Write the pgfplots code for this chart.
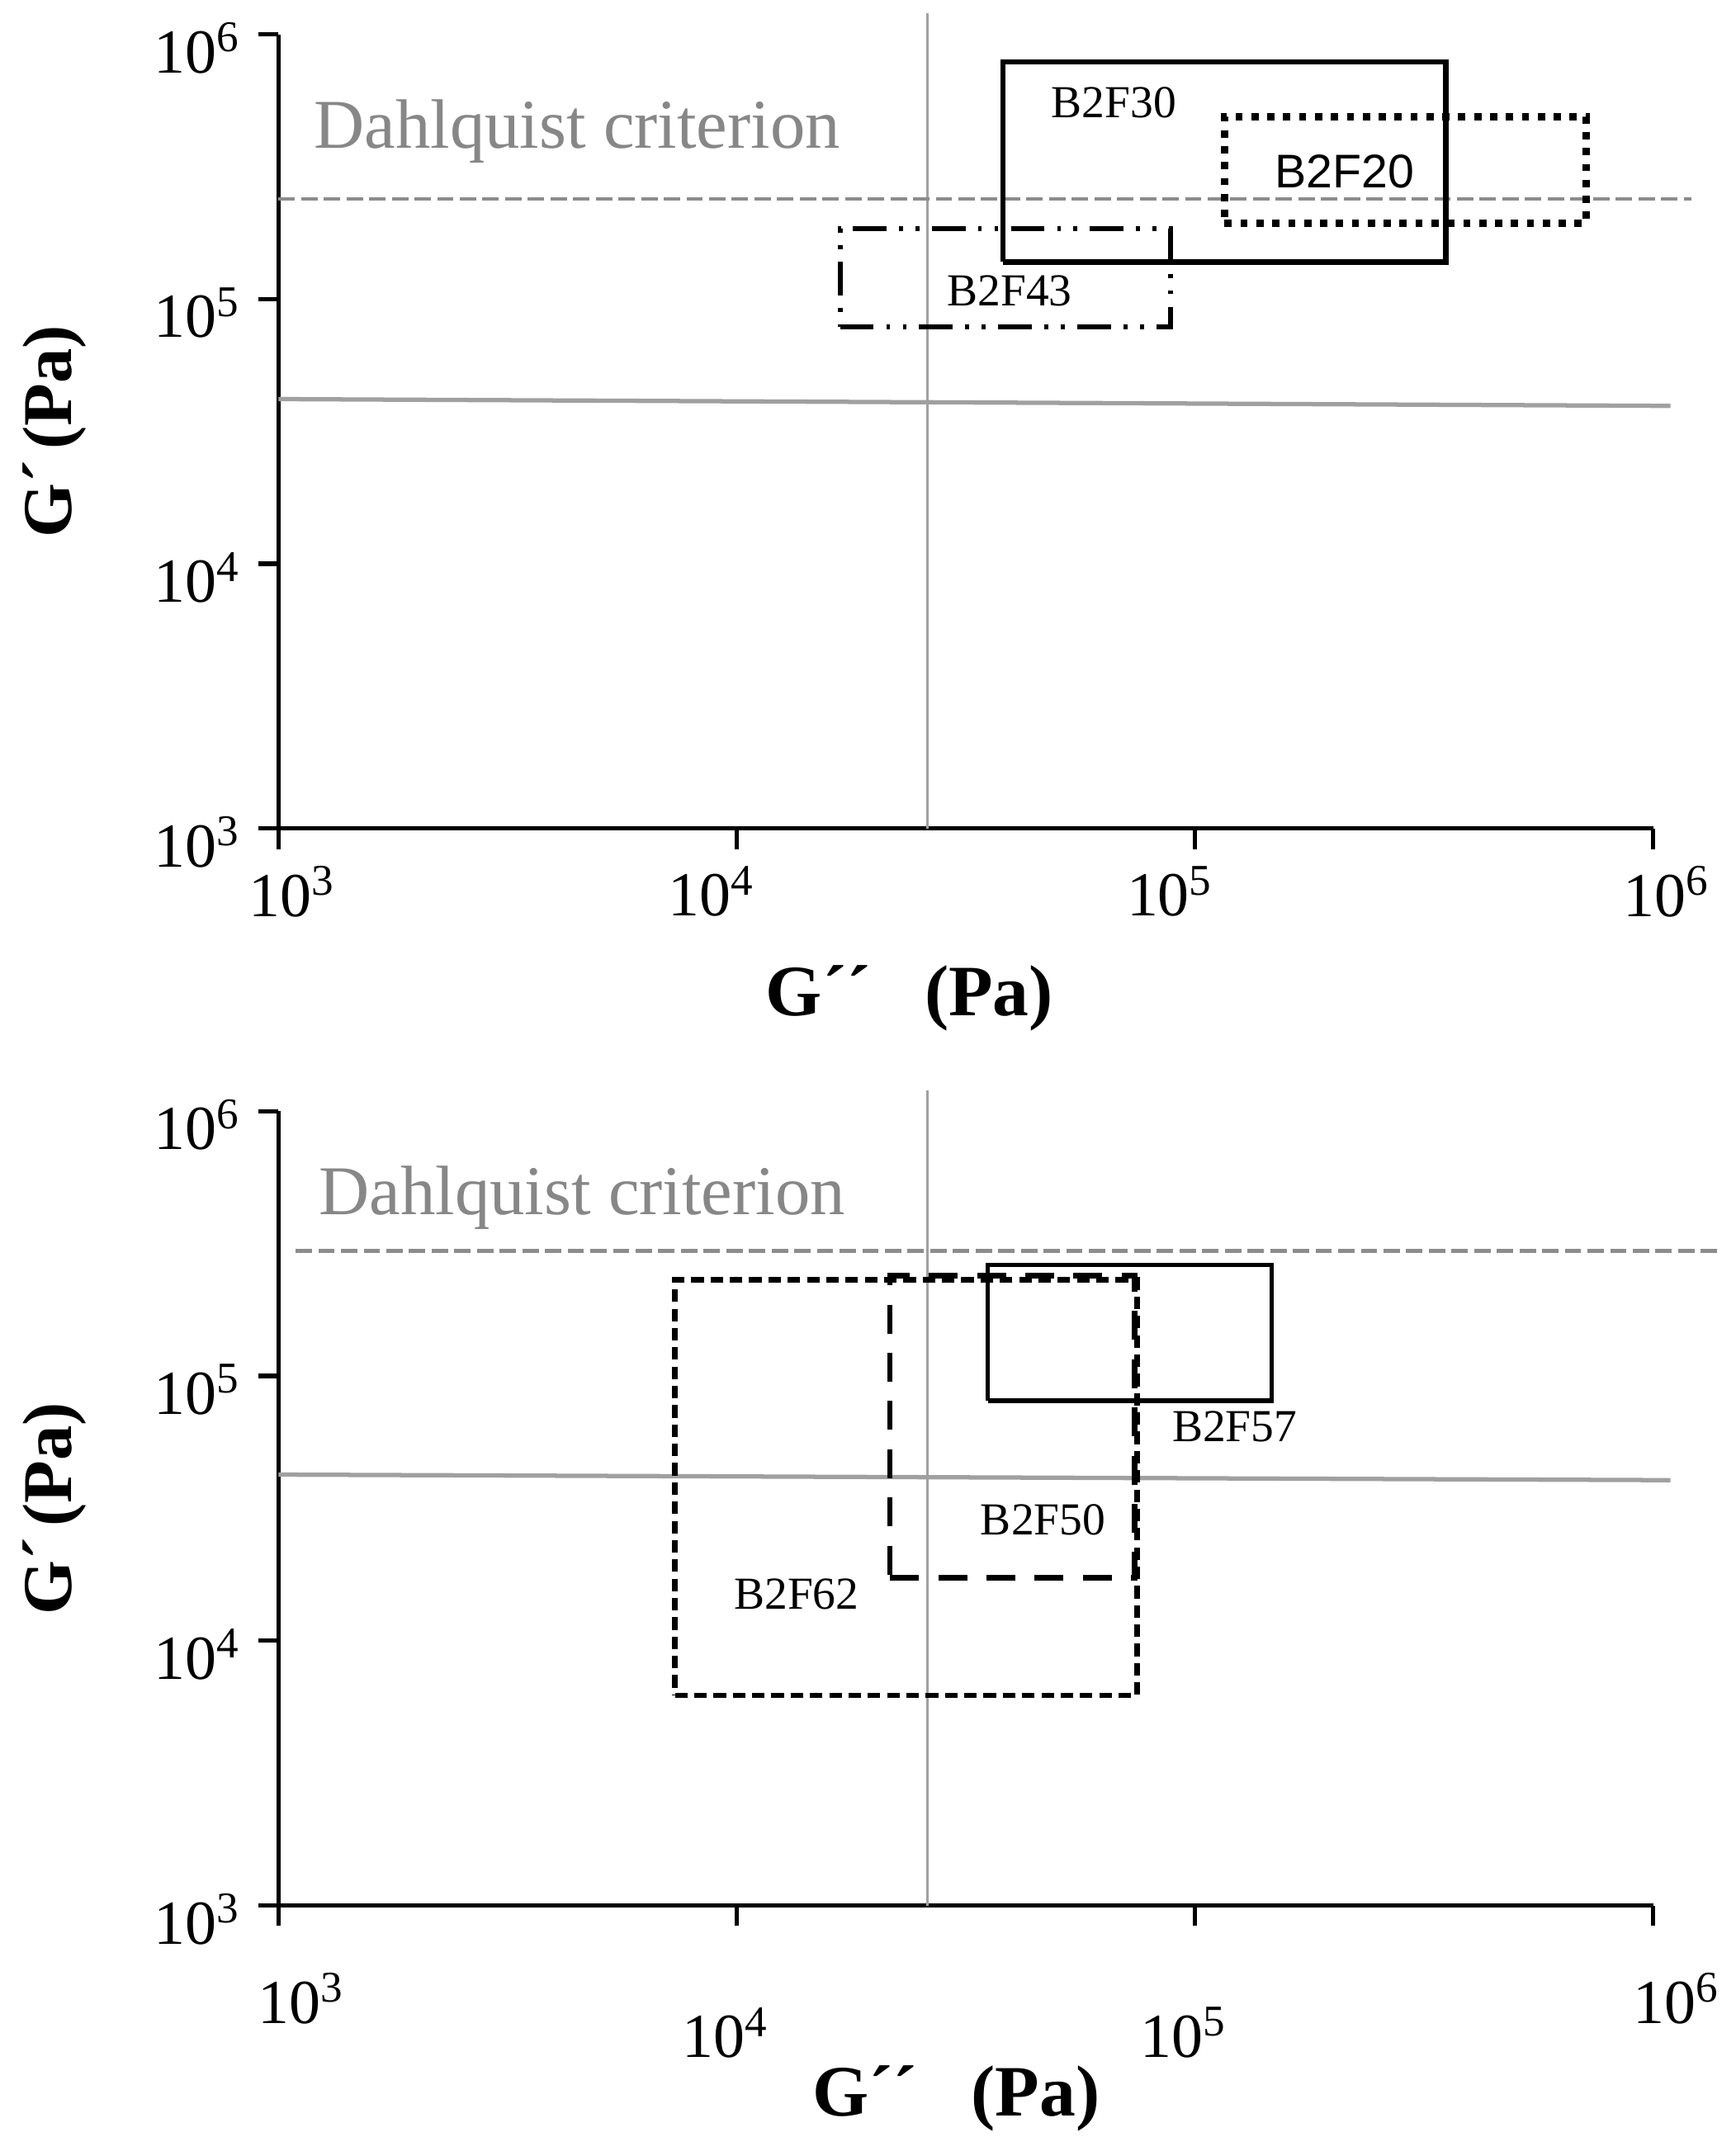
\documentclass[border=0pt]{standalone}
\usepackage{fontspec}
\setmainfont{Liberation Serif}
\newfontfamily\sansfont{Liberation Sans}
\usepackage{pgfplots}
\pgfplotsset{compat=1.18}
\definecolor{refgray}{RGB}{160,160,160}
\definecolor{dashgray}{RGB}{140,140,140}
\definecolor{txtgray}{RGB}{135,135,135}
\tikzset{
  boxlab/.style={font=\fontsize{9.5}{11}\selectfont, inner sep=0pt},
  dqtext/.style={font=\fontsize{14.5}{17}\selectfont, text=txtgray, inner sep=0pt, anchor=west},
}
\begin{document}
\begin{tikzpicture}
\path[use as bounding box] (0,0) rectangle (12.65cm,-15.68cm);
% ---------------- top panel ----------------
\begin{loglogaxis}[at={(2.03cm,-6.04cm)}, anchor=south west,
    scale only axis, width=10.02cm, height=5.79cm,
    xmin=1e3, xmax=1e6, ymin=1e3, ymax=1e6,
    axis x line*=bottom, axis y line*=left,
    axis line style={line width=0.9pt, black},
    tick align=outside, major tick length=0.15cm, minor tick length=0pt,
    tick style={black, line width=0.9pt},
    ticklabel style={font=\fontsize{13}{15}\selectfont},
    ytick={1e3,1e4,1e5,1e6},
    yticklabels={10\textsuperscript{3},10\textsuperscript{4},10\textsuperscript{5},10\textsuperscript{6}},
    yticklabel style={yshift=-0.1cm},
    xtick={1e3,1e6},
    xticklabels={10\textsuperscript{3},10\textsuperscript{6}},
    extra x ticks={1e4,1e5},
    extra x tick labels={10\textsuperscript{4},10\textsuperscript{5}},
    ylabel={\bfseries G´\hspace{0.15em}(Pa)},
    ylabel style={font=\fontsize{14.5}{17}\selectfont, at={(axis description cs:-0.163,0.5)}, anchor=center},
    xlabel={\bfseries G´´\hspace{0.75em}(Pa)},
    xlabel style={font=\fontsize{15}{18}\selectfont, anchor=center, at={(axis description cs:0.459,-0.214)}},
    clip=false,
    xticklabel style={xshift=0.1cm},
    extra x tick style={xticklabel style={xshift=-0.28cm}},
]
\addplot[refgray, line width=0.5pt] coordinates {(2.61e4,1e3) (2.61e4,1.2e6)};
\addplot[refgray, line width=0.9pt] coordinates {(1e3,4.19e4) (1.09e6,3.95e4)};
\addplot[dashgray, line width=0.8pt, dash pattern=on 3.4pt off 1.3pt] coordinates {(1e3,2.39e5) (1.21e6,2.39e5)};
% B2F43
\addplot[black, line width=1pt, dash pattern=on 7pt off 2.6pt on 0.8pt off 2.6pt on 0.8pt off 2.6pt]
  coordinates {(1.68e4,7.87e4) (8.83e4,7.87e4) (8.83e4,1.84e5) (1.68e4,1.84e5) (1.68e4,7.87e4)};
% B2F30
\addplot[black, line width=1.1pt] coordinates {(3.81e4,1.38e5) (3.53e5,1.38e5) (3.53e5,7.88e5) (3.81e4,7.88e5) (3.81e4,1.38e5)};
% B2F20
\addplot[black, line width=1.5pt, dash pattern=on 1.5pt off 1.8pt] coordinates {(1.16e5,1.93e5) (7.13e5,1.93e5) (7.13e5,4.89e5) (1.16e5,4.89e5) (1.16e5,1.93e5)};
\node[dqtext] at (axis cs:1.19e3,4.29e5) {Dahlquist criterion};
\node[boxlab] at (axis cs:6.65e4,5.51e5) {B2F30};
\node[boxlab, font=\sansfont\fontsize{9.8}{11}\selectfont] at (axis cs:2.12e5,3.04e5) {B2F20};
\node[boxlab] at (axis cs:3.94e4,1.07e5) {B2F43};
\end{loglogaxis}
% ---------------- bottom panel ----------------
\begin{loglogaxis}[at={(2.03cm,-13.89cm)}, anchor=south west,
    scale only axis, width=10.02cm, height=5.79cm,
    xmin=1e3, xmax=1e6, ymin=1e3, ymax=1e6,
    axis x line*=bottom, axis y line*=left,
    axis line style={line width=0.9pt, black},
    tick align=outside, major tick length=0.15cm, minor tick length=0pt,
    tick style={black, line width=0.9pt},
    ticklabel style={font=\fontsize{13}{15}\selectfont},
    ytick={1e3,1e4,1e5,1e6},
    yticklabels={10\textsuperscript{3},10\textsuperscript{4},10\textsuperscript{5},10\textsuperscript{6}},
    yticklabel style={yshift=-0.1cm},
    xtick={1e3,1e6},
    xticklabels={10\textsuperscript{3},10\textsuperscript{6}},
    extra x ticks={1e4,1e5},
    extra x tick labels={10\textsuperscript{4},10\textsuperscript{5}},
    ylabel={\bfseries G´\hspace{0.15em}(Pa)},
    ylabel style={font=\fontsize{14.5}{17}\selectfont, at={(axis description cs:-0.163,0.5)}, anchor=center},
    xlabel={\bfseries G´´\hspace{0.75em}(Pa)},
    xlabel style={font=\fontsize{15}{18}\selectfont, anchor=center, at={(axis description cs:0.493,-0.2435)}},
    clip=false,
    xticklabel style={xshift=0.17cm, yshift=-0.22cm},
    extra x tick style={xticklabel style={xshift=-0.25cm, yshift=-0.25cm}},
]
\addplot[refgray, line width=0.5pt] coordinates {(2.61e4,1e3) (2.61e4,1.2e6)};
\addplot[refgray, line width=0.9pt] coordinates {(1e3,4.24e4) (1.09e6,4.04e4)};
\addplot[dashgray, line width=0.8pt, dash pattern=on 3.4pt off 1.3pt] coordinates {(1.09e3,2.97e5) (1.38e6,2.97e5)};
% B2F62
\addplot[black, line width=1.1pt, dash pattern=on 2.6pt off 1.4pt] coordinates {(7.33e3,6.21e3) (7.48e4,6.21e3) (7.48e4,2.31e5) (7.33e3,2.31e5) (7.33e3,6.21e3)};
% B2F50
\addplot[black, line width=1.1pt, dash pattern=on 6pt off 4pt] coordinates {(2.16e4,1.73e4) (7.38e4,1.73e4) (7.38e4,2.39e5) (2.16e4,2.39e5) (2.16e4,1.73e4)};
% B2F57
\addplot[black, line width=0.9pt] coordinates {(3.53e4,8.07e4) (1.47e5,8.07e4) (1.47e5,2.63e5) (3.53e4,2.63e5) (3.53e4,8.07e4)};
\node[dqtext] at (axis cs:1.22e3,4.72e5) {Dahlquist criterion};
\node[boxlab] at (axis cs:1.22e5,6.43e4) {B2F57};
\node[boxlab] at (axis cs:4.66e4,2.86e4) {B2F50};
\node[boxlab] at (axis cs:1.35e4,1.5e4) {B2F62};
\end{loglogaxis}
\end{tikzpicture}
\end{document}
